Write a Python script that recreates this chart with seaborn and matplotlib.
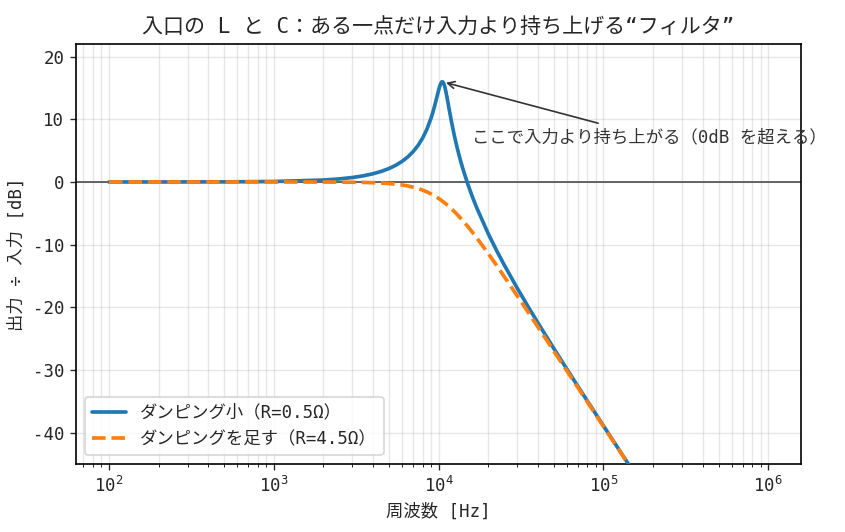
import numpy as np
import pandas as pd
import matplotlib
matplotlib.use("Agg")
import matplotlib.pyplot as plt
import seaborn as sns

# frequency points [Hz]
freq = [100, 200, 500, 1000, 2000, 2500, 3000, 3500, 4000, 4500, 5000, 5500,
        6000, 6500, 7000, 7500, 8000, 8500, 9000, 9250, 9500, 9750, 10000,
        10150, 10300, 10450, 10600, 10750, 10900, 11050, 11200, 11400, 11600,
        12000, 12500, 13000, 13500, 14000, 15000, 16000, 17000, 20000, 22500,
        25000, 30000, 35000, 40000, 50000, 60000, 70000, 100000, 150000,
        200000, 300000, 500000, 1000000]

# gain [dB], low damping (R=0.5 ohm)
gain_low = [0.0, 0.003, 0.019, 0.077, 0.311, 0.490, 0.715, 0.988, 1.313, 1.697,
            2.146, 2.669, 3.280, 3.992, 4.829, 5.817, 6.999, 8.428, 10.174,
            11.188, 12.294, 13.466, 14.618, 15.227, 15.701, 15.972, 15.986,
            15.730, 15.238, 14.572, 13.800, 12.702, 11.598, 9.523, 7.267,
            5.346, 3.688, 2.232, -0.234, -2.283, -4.042, -8.224, -10.935,
            -13.213, -16.932, -19.927, -22.446, -26.553, -29.842, -32.593,
            -38.891, -45.989, -51.005, -58.062, -66.943, -78.987]

# gain [dB], added damping (R=4.5 ohm)
gain_damped = [0.0, 0.0, -0.0004, -0.002, -0.012, -0.023, -0.042, -0.070,
               -0.111, -0.169, -0.247, -0.347, -0.475, -0.631, -0.819, -1.040,
               -1.295, -1.581, -1.899, -2.069, -2.246, -2.430, -2.619, -2.735,
               -2.854, -2.974, -3.096, -3.220, -3.345, -3.472, -3.600, -3.773,
               -3.948, -4.304, -4.756, -5.215, -5.677, -6.141, -7.067, -7.981,
               -8.875, -11.404, -13.321, -15.074, -18.161, -20.803, -23.104,
               -26.963, -30.123, -32.798, -38.990, -46.033, -51.029, -58.073,
               -66.947, -78.988]

label_low = "ダンピング小（R=0.5Ω）"
label_damped = "ダンピングを足す（R=4.5Ω）"

df = pd.DataFrame({"freq": freq, "low": gain_low, "damped": gain_damped})

sns.set_style("white")
plt.rcParams["font.family"] = ["DejaVu Sans Mono", "Noto Sans CJK JP"]
plt.rcParams["font.size"] = 10.4
plt.rcParams["axes.unicode_minus"] = False

fig, ax = plt.subplots(figsize=(845 / 120, 532 / 120), dpi=120)
fig.subplots_adjust(left=0.090, right=0.948, top=0.917, bottom=0.128)

ax.axhline(0, color="#666666", lw=1.2, zorder=1)
sns.lineplot(data=df, x="freq", y="low", ax=ax, color="#1f77b4", lw=2.2,
             label=label_low, zorder=3)
sns.lineplot(data=df, x="freq", y="damped", ax=ax, color="#ff7f0e", lw=2.2,
             linestyle="--", label=label_damped, zorder=3)

ax.set_xscale("log")
ax.set_ylim(-45, 22)
ax.grid(True, which="both", color="#b0b0b0", alpha=0.3, lw=0.8)
for s in ax.spines.values():
    s.set_color("black")
    s.set_linewidth(1.0)
ax.tick_params(axis="both", which="both", direction="out", bottom=True, left=True)

ax.set_title("入口の L と C：ある一点だけ入力より持ち上げる“フィルタ”", fontsize=12.6)
ax.set_xlabel("周波数 [Hz]")
ax.set_ylabel("出力 ÷ 入力 [dB]")

peak_i = int(np.argmax(gain_low))
ax.annotate("ここで入力より持ち上がる（0dB を超える）",
            xy=(freq[peak_i], gain_low[peak_i]), xytext=(1.6e4, 6.4),
            arrowprops=dict(arrowstyle="->", color="#333333", lw=1.0),
            color="#333333")

ax.legend(loc="lower left", frameon=True)

fig.savefig("out.png", dpi=120)
